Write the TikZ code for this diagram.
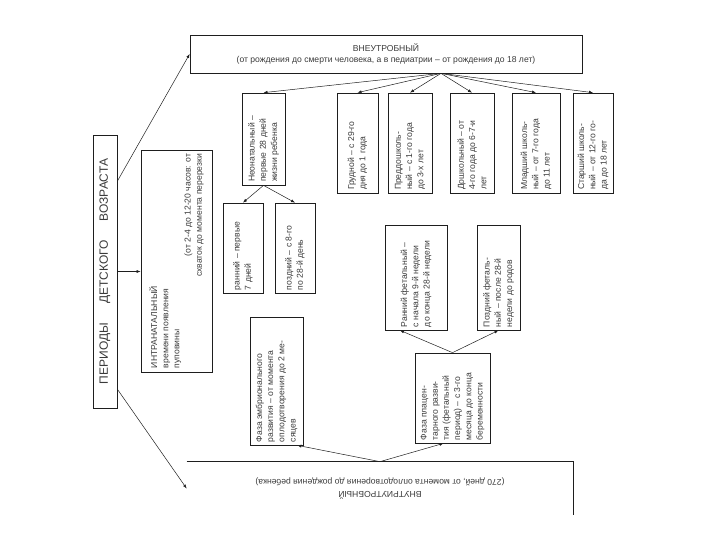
\documentclass[tikz,border=0pt]{standalone}
\usepackage{fontspec}
\setmainfont{Liberation Sans}
\usepackage{tikz}
\usetikzlibrary{arrows.meta,calc}
\definecolor{PeriodLine}{HTML}{1E1E1E}
\definecolor{PeriodText}{HTML}{3A3A3A}
\newcommand{\vlines}[2]{\rotatebox{90}{\parbox{#1}{\raggedright #2}}}

\begin{document}
\begin{tikzpicture}[x=1pt,y=-1pt,
		box/.style={draw=PeriodLine,line width=0.7pt,inner sep=0pt,text=PeriodText,font=\fontsize{8.6}{11.2}\selectfont},
		link/.style={draw=PeriodLine,line width=0.5pt,-{Latex[length=4pt,width=3pt]}}]
		\useasboundingbox (0,0) rectangle (720,540);
		\node[box,minimum width=392pt,minimum height=38pt,align=center] (outer) at (386,54) {ВНЕУТРОБНЫЙ\\(от рождения до смерти человека, а в педиатрии -- от рождения до 18 лет)};
		\node[box,minimum width=24pt,minimum height=273pt,font=\fontsize{12}{14}\selectfont] (title) at (105,271.5) {\rotatebox{90}{\makebox[225pt][s]{ПЕРИОДЫ ДЕТСКОГО ВОЗРАСТА}}};
		\node[box,minimum width=71pt,minimum height=222pt] (intra) at (176.5,261) {\vlines{214pt}{ИНТРАНАТАЛЬНЫЙ\\времени появления\\пуповины\\\hspace*{\fill}(от 2-4 до 12-20 часов: от\\\hspace*{\fill}схваток до момента перерезки}};
		\node[box,minimum width=43pt,minimum height=92pt] (neo) at (263.5,139) {\vlines{86pt}{Неонатальный --\\первые 28 дней\\жизни ребенка}};
		\node[box,minimum width=40pt,minimum height=90pt] (neoearly) at (243,248) {\vlines{84pt}{ранний -- первые\\7 дней}};
		\node[box,minimum width=40pt,minimum height=90pt] (neolate) at (295,248) {\vlines{84pt}{поздний -- с 8-го\\по 28-й день}};
		\node[box,minimum width=41pt,minimum height=100pt] (infant) at (357.5,143) {\vlines{94pt}{Грудной -- с 29-го\\дня до 1 года}};
		\node[box,minimum width=44pt,minimum height=100pt] (pretod) at (410,143) {\vlines{94pt}{Преддошколь-\\ный -- с 1-го года\\до 3-х лет}};
		\node[box,minimum width=44pt,minimum height=100pt] (presch) at (472,143) {\vlines{94pt}{Дошкольный -- от\\4-го года до 6-7-и\\лет}};
		\node[box,minimum width=48pt,minimum height=100pt] (junior) at (536,143) {\vlines{94pt}{Младший школь-\\ный -- от 7-го года\\до 11 лет}};
		\node[box,minimum width=40pt,minimum height=100pt] (senior) at (593,143) {\vlines{94pt}{Старший школь-\\ный -- от 12-го го-\\да до 18 лет}};
		\node[box,minimum width=62pt,minimum height=105pt] (fetearly) at (416,277.5) {\vlines{99pt}{Ранний фетальный --\\с начала 9-й недели\\до конца 28-й недели}};
		\node[box,minimum width=43pt,minimum height=105pt] (fetlate) at (498.5,277.5) {\vlines{99pt}{Поздний феталь-\\ный -- после 28-й\\недели до родов}};
		\node[box,minimum width=75pt,minimum height=90pt] (placenta) at (452.5,398) {\vlines{84pt}{Фаза плацен-\\тарного разви-\\тия (фетальный\\период) -- с 3-го\\месяца до конца\\беременности}};
		\node[box,minimum width=53pt,minimum height=128pt] (embryo) at (276.5,381) {\vlines{122pt}{Фаза эмбрионального\\развития -- от момента\\оплодотворения до 2 ме-\\сяцев}};
		\node[box,draw=none,minimum width=386pt,minimum height=53pt] (inner) at (380,488.5) {\rotatebox{180}{\parbox{380pt}{\centering ВНУТРИУТРОБНЫЙ\\(270 дней, от момента оплодотворения до рождения ребенка)}}};
		\draw[PeriodLine,line width=0.7pt] (inner.north west) -- (inner.north east) -- (inner.south east);
		% fans
		\coordinate (outerfan) at ($(outer.south west)!0.64!(outer.south east)$);
		\foreach \n in {neo,infant,pretod,presch,junior,senior} \draw[link] (outerfan) -- (\n.north);
		\draw[link] (neo.south) -- (neoearly.north);
		\draw[link] (neo.south) -- (neolate.north);
		\draw[link] (placenta.north) -- ($(fetearly.south)+(-16,0)$);
		\draw[link] (placenta.north) -- (fetlate.south);
		\draw[link] (inner.north) -- ($(embryo.south east)+(-6,0)$);
		\draw[link] (inner.north) -- ($(placenta.south)+(-9,0)$);
		\draw[link] ($(title.north east)!0.17!(title.south east)$) -- (outer.west);
		\draw[link] ($(title.north east)!0.93!(title.south east)$) -- (inner.west);
		\draw[link] (title.east) -- (title.east -| intra.west);
	\end{tikzpicture}
\end{document}
